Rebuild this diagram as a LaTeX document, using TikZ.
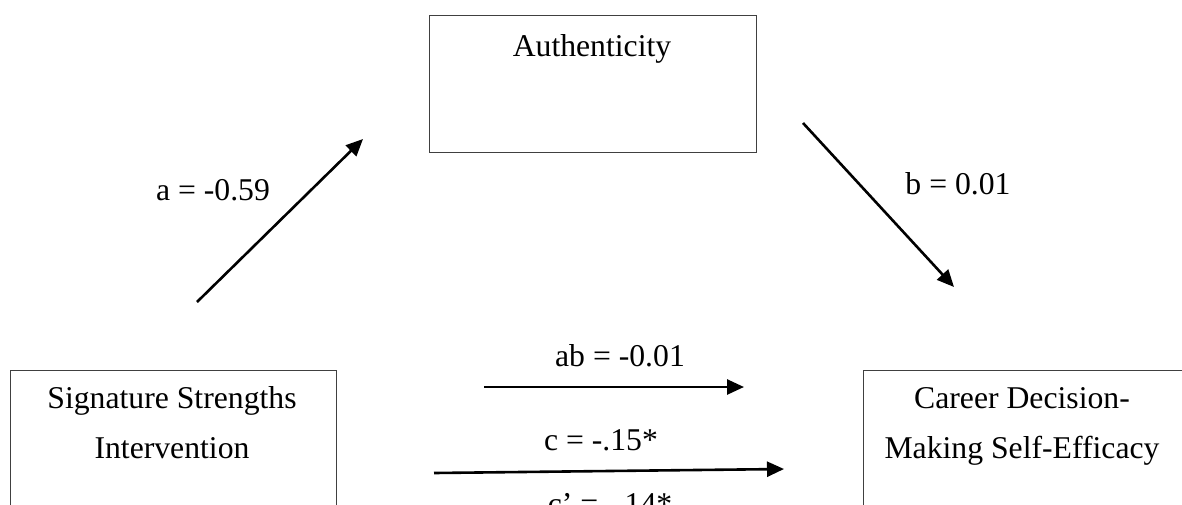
\documentclass[tikz,border=0pt]{standalone}
\usepackage{fontspec}
\setmainfont{Liberation Serif}
\usetikzlibrary{arrows.meta}
\begin{document}
\begin{tikzpicture}[x=1pt,y=-1pt,
  boxstyle/.style={draw=black!75,line width=1.4pt,rectangle,inner sep=0pt,anchor=north west},
  txt/.style={font=\fontsize{31.7}{40}\selectfont,anchor=base,inner sep=0pt},
  arr/.style={line width=2.6pt,-{Triangle[length=17pt,width=15pt]}}]
\clip (0,0) rectangle (1182,504);
\useasboundingbox (0,0) rectangle (1182,504);
% boxes
\node[boxstyle,minimum width=327pt,minimum height=137pt] (auth) at (429,15) {};
\node[boxstyle,minimum width=326pt,minimum height=200pt] (sig) at (10,370) {};
\node[boxstyle,minimum width=340pt,minimum height=200pt] (cdm) at (863,370) {};
% box texts
\node[txt] (tauth) at (592,56) {Authenticity};
\node[txt] (tsig1) at (172,408) {Signature Strengths};
\node[txt] (tsig2) at (172,458) {Intervention};
\node[txt] (tcdm1) at (1022,408) {Career Decision-};
\node[txt] (tcdm2) at (1022,458) {Making Self-Efficacy};
% arrow end points
\coordinate (a1) at (197,302); \coordinate (a2) at (363,139);
\coordinate (b1) at (803,123); \coordinate (b2) at (954,287);
\coordinate (ab1) at (484,387); \coordinate (ab2) at (744,387);
\coordinate (c1) at (434,473); \coordinate (c2) at (784,469);
\draw[arr] (a1) -- (a2);
\draw[arr] (b1) -- (b2);
\draw[arr] (ab1) -- (ab2);
\draw[arr] (c1) -- (c2);
% labels
\node[txt] (la) at (213,200) {a = -0.59};
\node[txt] (lb) at (958,194) {b = 0.01};
\node[txt] (lab) at (620,366) {ab = -0.01};
\node[txt] (lc) at (601,450) {c = -.15*};
\node[txt] (lcp) at (610,514) {c’ = -.14*};
\end{tikzpicture}
\end{document}
